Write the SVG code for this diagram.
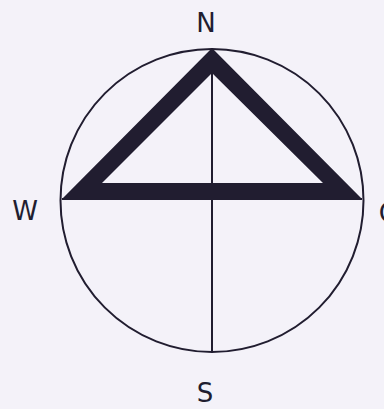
<svg xmlns="http://www.w3.org/2000/svg" width="384" height="409" viewBox="0 0 384 409">
<style>
.ln{fill:none;stroke:#211d30;stroke-width:2}
.lbl{font-family:"DejaVu Sans","Liberation Sans",sans-serif;font-size:26px;fill:#211d30;text-anchor:middle}
</style>
<rect width="384" height="409" fill="#f4f2f9"/>
<g id="connectors">
<circle class="ln" cx="212" cy="200.5" r="151.5"/>
<line class="ln" x1="212" y1="48" x2="212" y2="353"/>
<line class="ln" x1="62" y1="199" x2="362" y2="199"/>
</g>
<g id="triangle">
<path d="M212,48 L362,199 L62,199 Z M212,73 L102,183 L323,183 Z" fill="#211d30" fill-rule="evenodd"/>
</g>
<g id="N"><text class="lbl" x="206" y="32">N</text></g>
<g id="W"><text class="lbl" x="25" y="220">W</text></g>
<g id="O"><text class="lbl" x="389" y="222">O</text></g>
<g id="S"><text class="lbl" x="205" y="402">S</text></g>
</svg>
